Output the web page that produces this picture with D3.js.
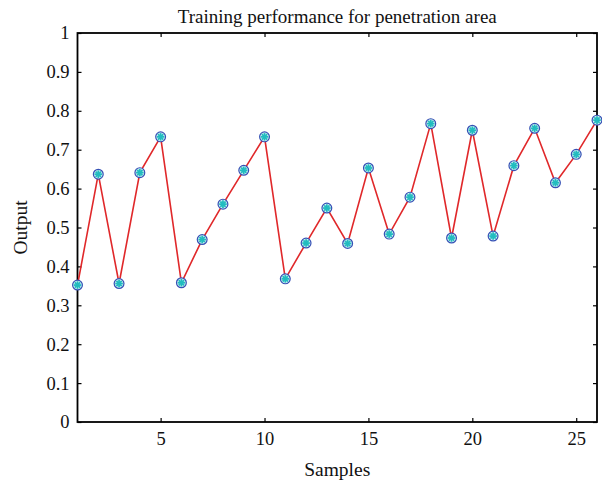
<!DOCTYPE html>
<html>
<head>
<meta charset="utf-8">
<script src="https://cdn.jsdelivr.net/npm/d3@7"></script>
<style>
  body { margin: 0; background: #fff; }
  text { font-family: "Liberation Serif", "DejaVu Serif", serif; fill: #111; }
</style>
</head>
<body>
<div id="chart"></div>
<script>
// data
var samples = d3.range(1, 27);
var output = [0.352, 0.637, 0.356, 0.641, 0.733, 0.358, 0.469, 0.560, 0.647, 0.733,
              0.368, 0.460, 0.550, 0.459, 0.653, 0.483, 0.578, 0.767, 0.473, 0.750,
              0.478, 0.659, 0.755, 0.615, 0.688, 0.776];
var xTicks = [5, 10, 15, 20, 25];
var yTicks = [0, 0.1, 0.2, 0.3, 0.4, 0.5, 0.6, 0.7, 0.8, 0.9, 1];

var W = 602, H = 487;
var margin = {top: 33, right: 5, bottom: 65, left: 77.5};
var width = W - margin.left - margin.right,
    height = H - margin.top - margin.bottom;

var svg = d3.select("#chart").append("svg")
  .attr("width", W).attr("height", H);
var g = svg.append("g")
  .attr("transform", "translate(" + margin.left + "," + margin.top + ")");

var x = d3.scaleLinear().domain([1, 26]).range([0, width]);
var y = d3.scaleLinear().domain([0, 1]).range([height, 0]);

// axes with inward ticks, mirrored on top/right
var xAxis = d3.axisBottom(x).tickValues(xTicks).tickSizeInner(-4).tickSizeOuter(0).tickPadding(10);
var yAxis = d3.axisLeft(y).tickValues(yTicks).tickSizeInner(-4).tickSizeOuter(0).tickPadding(8)
  .tickFormat(function(d) { return d === 0 || d === 1 ? d3.format("d")(d) : d3.format(".1f")(d); });

var gx = g.append("g").attr("transform", "translate(0," + height + ")").call(xAxis);
var gy = g.append("g").call(yAxis);
g.append("g").call(d3.axisTop(x).tickValues(xTicks).tickSizeInner(-4).tickSizeOuter(0).tickFormat(""));
g.append("g").attr("transform", "translate(" + width + ",0)")
  .call(d3.axisRight(y).tickValues(yTicks).tickSizeInner(-4).tickSizeOuter(0).tickFormat(""));

g.selectAll(".domain").remove();
g.selectAll(".tick line").attr("stroke", "#000").attr("stroke-width", 1.2);
g.selectAll(".tick text").style("font-size", "18.5px").attr("fill", "#111");

g.append("rect")
  .attr("width", width).attr("height", height)
  .attr("fill", "none").attr("stroke", "#000").attr("stroke-width", 1.8);

// line
var pts = samples.map(function(s, i) { return {x: s, y: output[i]}; });
var line = d3.line().x(function(d) { return x(d.x); }).y(function(d) { return y(d.y); });
g.append("path").datum(pts)
  .attr("fill", "none").attr("stroke", "#e0282a").attr("stroke-width", 1.6)
  .attr("d", line);

// markers: open blue circle + cyan asterisk
var m = g.selectAll(".mk").data(pts).enter().append("g")
  .attr("transform", function(d) { return "translate(" + x(d.x) + "," + y(d.y) + ")"; });
m.append("circle").attr("r", 4.9)
  .attr("fill", "#d8f2f4").attr("stroke", "#3550b5").attr("stroke-width", 1.2);
var r = 3.8;
[[-r, 0, r, 0], [0, -r, 0, r], [-r*0.7, -r*0.7, r*0.7, r*0.7], [-r*0.7, r*0.7, r*0.7, -r*0.7]].forEach(function(s) {
  m.append("line").attr("x1", s[0]).attr("y1", s[1]).attr("x2", s[2]).attr("y2", s[3])
    .attr("stroke", "#22bcc0").attr("stroke-width", 1.8);
});

// labels
svg.append("text").attr("x", margin.left + width / 2).attr("y", 23)
  .attr("text-anchor", "middle").style("font-size", "19px")
  .text("Training performance for penetration area");
svg.append("text").attr("x", margin.left + width / 2).attr("y", 476)
  .attr("text-anchor", "middle").style("font-size", "19.5px")
  .text("Samples");
svg.append("text")
  .attr("transform", "translate(27," + (margin.top + height / 2) + ") rotate(-90)")
  .attr("text-anchor", "middle").style("font-size", "19.5px")
  .text("Output");
</script>
</body>
</html>
